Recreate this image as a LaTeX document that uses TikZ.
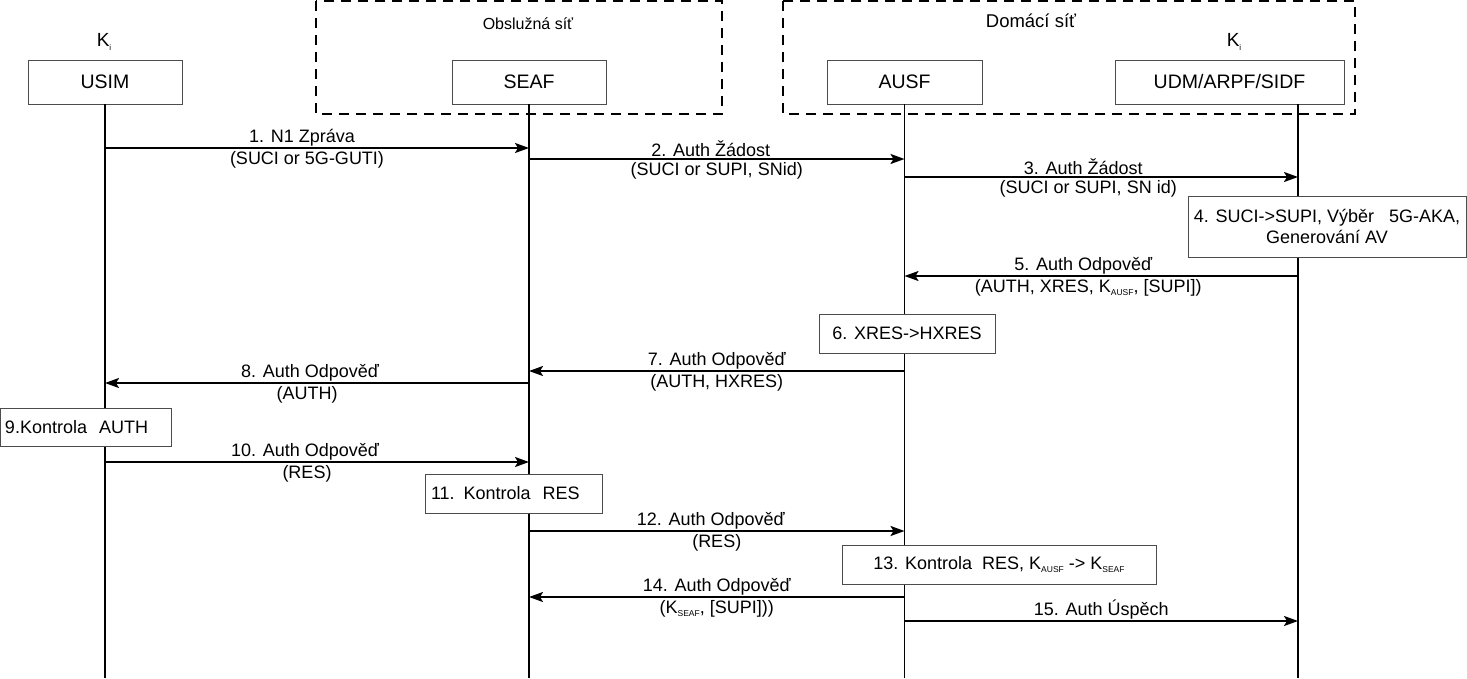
\documentclass[tikz,border=0pt]{standalone}
\usepackage{fontspec}
\setmainfont{Liberation Sans}
\usepackage{tikz}
\usetikzlibrary{arrows.meta}
\usetikzlibrary{positioning, calc}

\begin{document}
\begin{tikzpicture}[x=1pt, y=-1pt]
		\newcommand*{\keysub}[1]{K\raisebox{-3pt}{\fontsize{8.5}{8.5}\selectfont #1}}
		\newcommand*{\lblsize}{\fontsize{18}{21}\selectfont}
		\tikzset{
			myarrow/.tip={Stealth[length=14pt, width=10pt, inset=3pt]},
			entity/.style={draw=black!70, fill=white, line width=0.8pt, minimum height=44pt, font=\fontsize{19.5}{22}\selectfont},
			stepbox/.style={draw=black!70, fill=white, line width=0.8pt, minimum height=39pt, align=center, inner sep=2pt, font=\lblsize},
			life/.style={line width=1.6pt},
			msg/.style={line width=2pt, -myarrow},
			upper/.style={above, inner sep=1pt, font=\lblsize},
			lower/.style={below, inner sep=2.5pt, font=\lblsize},
			netbox/.style={line width=2.4pt, dash pattern=on 10pt off 7pt},
		}
		\useasboundingbox (0,0) rectangle (1467,678);
		% networks
		\draw[netbox] (316,1) rectangle (722,114);
		\draw[netbox] (783,1) rectangle (1355,114);
		\node[font=\fontsize{16}{18}\selectfont] (served) at (528,24) {Obslužná síť};
		\node[font=\fontsize{18.5}{20}\selectfont] (home) at (1031,21) {Domácí síť};
		% entities
		\node[entity, minimum width=154pt] (usim) at (105,82) {USIM};
		\node[entity, minimum width=154pt] (seaf) at (529,82) {SEAF};
		\node[entity, minimum width=155pt] (ausf) at (904.5,82) {AUSF};
		\node[entity, minimum width=229pt] (udm) at (1229.5,82) {UDM/ARPF/SIDF};
		\node[font=\fontsize{19}{20}\selectfont] (kusim) at (104,42) {K\raisebox{-4pt}{\fontsize{8}{8}\selectfont i}};
		\node[font=\fontsize{19}{20}\selectfont] (kudm) at (1234,42) {K\raisebox{-4pt}{\fontsize{8}{8}\selectfont i}};
		\coordinate (udmL) at (1298,104);
		\coordinate (bottom) at (0,678);
		% lifelines
		\draw[life] (usim.south) -- (usim.south |- bottom);
		\draw[life] (seaf.south) -- (seaf.south |- bottom);
		\draw[life] (ausf.south) -- (ausf.south |- bottom);
		\draw[life] (udmL) -- (udmL |- bottom);
		% message heights
		\coordinate (m1) at (0,148);
		\coordinate (m2) at (0,159);
		\coordinate (m3) at (0,177);
		\coordinate (m5) at (0,276);
		\coordinate (m7) at (0,371);
		\coordinate (m8) at (0,383);
		\coordinate (m10) at (0,462);
		\coordinate (m12) at (0,531);
		\coordinate (m14) at (0,597);
		\coordinate (m15) at (0,621);
		% messages
		\draw[msg] (usim |- m1) -- node[upper, xshift=-15pt] {1. N1 Zpráva} node[lower, xshift=-10pt] {(SUCI or 5G-GUTI)} (seaf |- m1);
		\draw[msg] (seaf |- m2) -- node[upper, xshift=-6pt] {2. Auth Žádost} node[lower] {(SUCI or SUPI, SNid)} (ausf |- m2);
		\draw[msg] (ausf |- m3) -- node[upper, xshift=-18pt] {3. Auth Žádost} node[lower, xshift=-13pt] {(SUCI or SUPI, SN id)} (udmL |- m3);
		\node[stepbox, minimum width=278pt, minimum height=61pt] (s4) at (1327,226.5) {4. SUCI->SUPI, Výběr \ \ 5G-AKA,\\Generování AV};
		\draw[msg] (udmL |- m5) -- node[upper, xshift=-18pt] {5. Auth Odpověď} node[lower, xshift=-13pt] {(AUTH, XRES, \keysub{AUSF}, [SUPI])} (ausf |- m5);
		\node[stepbox, minimum width=176pt] (s6) at (907,333.5) {6. XRES->HXRES};
		\draw[msg] (ausf |- m7) -- node[upper] {7. Auth Odpověď} node[lower] {(AUTH, HXRES)} (seaf |- m7);
		\draw[msg] (seaf |- m8) -- node[upper, xshift=-7pt] {8. Auth Odpověď} node[lower, xshift=-10pt] {(AUTH)} (usim |- m8);
		\node[stepbox, minimum width=171pt, minimum height=38pt, inner xsep=5pt, text width=161pt, align=left] (s9) at (85.5,427) {9.Kontrola \ AUTH};
		\draw[msg] (usim |- m10) -- node[upper, xshift=-12pt] {10. Auth Odpověď} node[lower, xshift=-10pt] {(RES)} (seaf |- m10);
		\node[stepbox, minimum width=177pt, inner xsep=6pt, text width=165pt, align=left] (s11) at (513.5,493.5) {11. Kontrola \ RES};
		\draw[msg] (seaf |- m12) -- node[upper, xshift=-6pt] {12. Auth Odpověď} node[lower] {(RES)} (ausf |- m12);
		\node[stepbox, minimum width=314pt] (s13) at (999,564.5) {13. Kontrola \ RES, \keysub{AUSF} -> \keysub{SEAF}};
		\draw[msg] (ausf |- m14) -- node[upper] {14. Auth Odpověď} node[lower] {(\keysub{SEAF}, [SUPI]))} (seaf |- m14);
		\draw[msg] (ausf |- m15) -- node[upper] {15. Auth Úspěch} (udmL |- m15);
	\end{tikzpicture}
\end{document}
